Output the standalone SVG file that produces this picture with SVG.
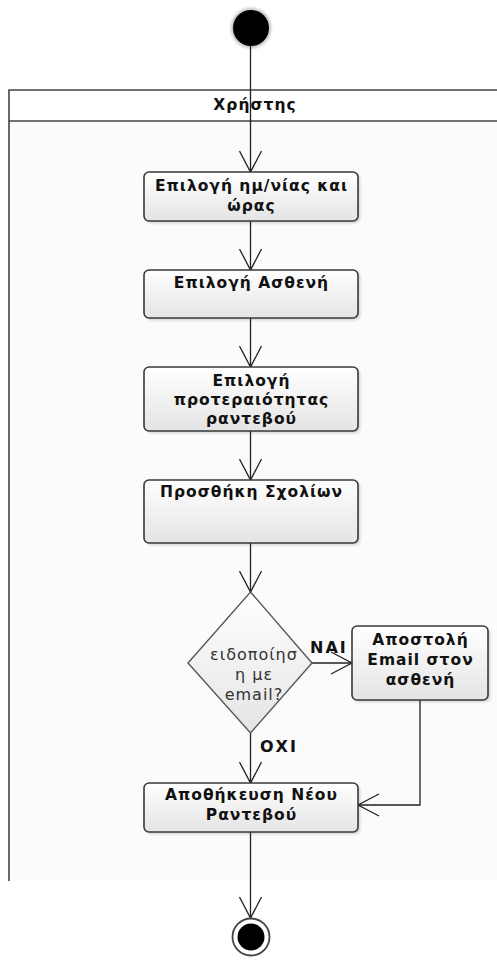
<svg xmlns="http://www.w3.org/2000/svg" width="497" height="961" viewBox="0 0 497 961">
  <defs>
    <linearGradient id="actFill" x1="0" y1="0" x2="0" y2="1">
      <stop offset="0" stop-color="#ffffff"/>
      <stop offset="1" stop-color="#e4e4e4"/>
    </linearGradient>
    <filter id="soft" x="-20%" y="-20%" width="140%" height="140%">
      <feGaussianBlur stdDeviation="1.5"/>
    </filter>
    <marker id="open" viewBox="0 0 24 24" refX="22" refY="12" markerWidth="24" markerHeight="24" markerUnits="userSpaceOnUse" orient="auto">
      <path d="M1,1 L22,12 L1,23" fill="none" stroke="#222" stroke-width="1.3"/>
    </marker>
    <style>
      .act { fill: url(#actFill); stroke: #3a3a3a; stroke-width: 1.6; }
      .shadow { fill: #000; opacity: 0.18; filter: url(#soft); }
      .lbl { font-family: "DejaVu Sans", Verdana, sans-serif; font-weight: bold; font-size: 15.5px; letter-spacing: 1px; fill: #111; text-anchor: middle; }
      .dlbl { font-family: "DejaVu Sans", Verdana, sans-serif; font-size: 16px; letter-spacing: 1px; fill: #333; text-anchor: middle; }
      .guard { font-family: "DejaVu Sans", Verdana, sans-serif; font-weight: bold; font-size: 16px; letter-spacing: 2px; fill: #111; }
      .flow { fill: none; stroke: #222; stroke-width: 1.3; marker-end: url(#open); }
    </style>
  </defs>

  <rect width="497" height="961" fill="#ffffff"/>

  <!-- swimlane -->
  <g id="lane">
    <rect x="9" y="121" width="500" height="760" fill="#fbfbfb"/>
    <path d="M9,881 L9,90 L500,90" fill="none" stroke="#444" stroke-width="1.6"/>
    <line x1="9" y1="121" x2="500" y2="121" stroke="#444" stroke-width="1.6"/>
    <text x="255" y="110" class="lbl">Χρήστης</text>
  </g>

  <!-- connectors -->
  <g id="connectors">
    <path class="flow" d="M250.5,46 L250.5,172"/>
    <path class="flow" d="M250.5,221 L250.5,270"/>
    <path class="flow" d="M250.5,318 L250.5,367"/>
    <path class="flow" d="M250.5,431 L250.5,480"/>
    <path class="flow" d="M250.5,543 L250.5,592"/>
    <path class="flow" d="M312,663 L352,663"/>
    <path class="flow" d="M250.5,733 L250.5,783"/>
    <path class="flow" d="M420,700 L420,805 L358,805"/>
    <path class="flow" d="M250.5,832 L250.5,918"/>
    <text x="310" y="653" class="guard">ΝΑΙ</text>
    <text x="260" y="752" class="guard">ΟΧΙ</text>
  </g>

  <!-- initial node -->
  <g id="start">
    <circle cx="251" cy="28" r="20" fill="#000" opacity="0.25" filter="url(#soft)"/>
    <circle cx="251" cy="28" r="18" fill="#000"/>
  </g>

  <g id="selectDate">
    <rect class="shadow" x="146" y="174" width="214" height="49" rx="5"/>
    <rect class="act" x="144" y="172" width="214" height="49" rx="5"/>
    <text class="lbl" x="251.5" y="191">Επιλογή ημ/νίας και</text>
    <text class="lbl" x="251.5" y="211">ώρας</text>
  </g>

  <g id="selectPatient">
    <rect class="shadow" x="146" y="272" width="214" height="48" rx="5"/>
    <rect class="act" x="144" y="270" width="214" height="48" rx="5"/>
    <text class="lbl" x="251.5" y="288">Επιλογή Ασθενή</text>
  </g>

  <g id="selectPriority">
    <rect class="shadow" x="146" y="369" width="214" height="64" rx="5"/>
    <rect class="act" x="144" y="367" width="214" height="64" rx="5"/>
    <text class="lbl" x="251.5" y="386">Επιλογή</text>
    <text class="lbl" x="251.5" y="405">προτεραιότητας</text>
    <text class="lbl" x="251.5" y="424">ραντεβού</text>
  </g>

  <g id="addComments">
    <rect class="shadow" x="146" y="482" width="214" height="63" rx="5"/>
    <rect class="act" x="144" y="480" width="214" height="63" rx="5"/>
    <text class="lbl" x="251.5" y="497">Προσθήκη Σχολίων</text>
  </g>

  <g id="emailDecision">
    <path d="M250.5,592 L312,663 L250.5,733 L188,663 Z" fill="url(#actFill)" stroke="#555" stroke-width="1.4"/>
    <text class="dlbl" x="254" y="660">ειδοποίησ</text>
    <text class="dlbl" x="254" y="680">η με</text>
    <text class="dlbl" x="254" y="700">email?</text>
  </g>

  <g id="sendEmail">
    <rect class="shadow" x="354" y="628" width="136" height="74" rx="5"/>
    <rect class="act" x="352" y="626" width="136" height="74" rx="5"/>
    <text class="lbl" x="420.5" y="645">Αποστολή</text>
    <text class="lbl" x="420.5" y="665">Email στον</text>
    <text class="lbl" x="420.5" y="685">ασθενή</text>
  </g>

  <g id="saveAppointment">
    <rect class="shadow" x="146" y="785" width="214" height="49" rx="5"/>
    <rect class="act" x="144" y="783" width="214" height="49" rx="5"/>
    <text class="lbl" x="251.5" y="800">Αποθήκευση Νέου</text>
    <text class="lbl" x="251.5" y="820">Ραντεβού</text>
  </g>

  <!-- final node -->
  <g id="end">
    <circle cx="251" cy="937" r="18.5" fill="#fff" stroke="#444" stroke-width="1.8"/>
    <circle cx="251" cy="937" r="13.5" fill="#000"/>
  </g>
</svg>
